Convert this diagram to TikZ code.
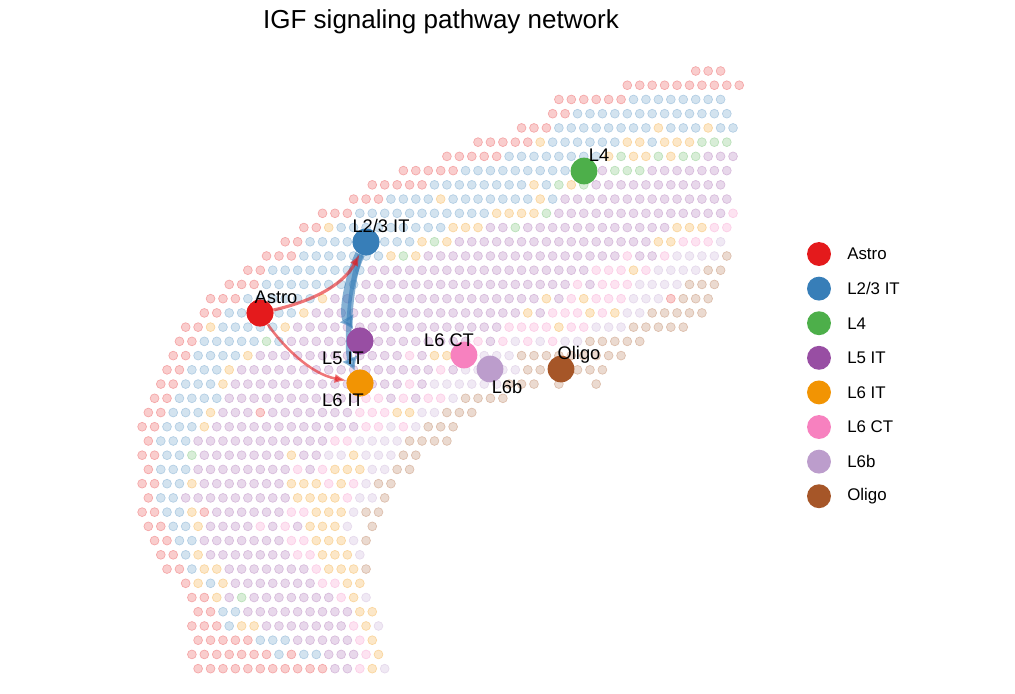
\documentclass[tikz,border=0pt]{standalone}
\usepackage{fontspec}
\setmainfont{Liberation Sans}
\usetikzlibrary{arrows.meta}

\definecolor{cr}{HTML}{E41A1C}
\definecolor{cb}{HTML}{377EB8}
\definecolor{cg}{HTML}{4DAF4A}
\definecolor{cp}{HTML}{984EA3}
\definecolor{co}{HTML}{F29403}
\definecolor{ck}{HTML}{F781BF}
\definecolor{cl}{HTML}{BC9DCC}
\definecolor{cn}{HTML}{A65628}

% one row of spots: row index, first column, colour letters (. = empty)
\newcount\spotm
\def\spotrow#1#2#3{\def\spoty{#1}\global\spotm=#2\relax\spotscan#3\relax}
\def\spotscan#1{\ifx#1\relax\else\spotput#1\expandafter\spotscan\fi}
\def\spotput#1{\if#1.\else
  \path[spot,fill=c#1!22,draw=c#1!38] ({6.22*(\the\spotm+0.85)},{71+14.23*\spoty}) circle (4.4);\fi
  \global\advance\spotm by 2\relax}

\begin{document}
\begin{tikzpicture}[x=0.025cm,y=-0.025cm,
    spot/.style={line width=0.5pt},
    big/.style={circle, fill=#1, inner sep=0pt, minimum size=19pt},
    lab/.style={font=\fontsize{13}{15}\selectfont, inner sep=0pt},
    sig/.style={draw=#1, opacity=.6, -{Latex[length=8.5pt,width=6.5pt]}},
    wide/.style={draw=cb, opacity=.6, -{Latex[length=9pt,width=12pt]}}]
    \useasboundingbox (0,0) rectangle (1015,693);

    \spotrow{0}{111}{rrr}
    \spotrow{1}{100}{rrrrrrrrrr}
    \spotrow{2}{89}{rrrrrr bbbbbbbb}
    \spotrow{3}{88}{rr bbbbbbbbbbbbb}
    \spotrow{4}{83}{rrr bbbbbbbb o bbb o bb}
    \spotrow{5}{76}{rrrrr o bbbbbb oo b ooo ggg}
    \spotrow{6}{71}{rrrrr bbbbbbbb ogoogogg ppp}
    \spotrow{7}{64}{rrrrr bbbbbbbbb gg p ggg ppppppp}
    \spotrow{8}{59}{rrrrr bbbbbbbb obgog ppppppppppp}
    \spotrow{9}{56}{rrr bbbb o bbbbbbb o b pppppppppppppp}
    \spotrow{10}{51}{rrr bbbbbbbbbbb oooo g pppppppppppppp k}
    \spotrow{11}{48}{rr o b bbbbbbbb ooo pp g pp pppppppppp ooo kk}
    \spotrow{12}{45}{rr b bbbbbbb b ogo pppppppppppppppp oo kkk l}
    \spotrow{13}{42}{rrr bbbbbbb ogo pppppppppppppppp k pp k llll n}
    \spotrow{14}{39}{rr bbbbbbbb pppppppppppppppppp kkk o k llll nn}
    \spotrow{15}{36}{rrr bbbbbbbb ppppppppppppppppp k p kkk llll nnn}
    \spotrow{16}{33}{rrr bbbbbb o pp ppppppppppppppp o p k o kkk lll r nnn}
    \spotrow{17}{32}{rr bbbbbb o ppppppppppppppppp o p kkk o k o ll nnnnn}
    \spotrow{18}{29}{rr o bbbbb o ppppppppppppppppp kkkk o kk lll nnnnn}
    \spotrow{19}{28}{rr bbbbb g b ppppppppppppppp kpklklkll nnnnn}
    \spotrow{20}{27}{rr bbbb o pppppppppppp k p oo kk lll nnnnnnnnn}
    \spotrow{21}{26}{rr bbb o pppppppppppppppp k p lllll nnnnnnn}
    \spotrow{22}{25}{rr bbb o pppppppppppppp k p llllll nnn . n . . n}
    \spotrow{23}{24}{rr bbbb ppppppppppp kk p k p kk l nnnn}
    \spotrow{24}{23}{rr bbb o ppp r ppppppp kkk oo ll nnn}
    \spotrow{25}{22}{rr bbb o pppppppppppp kk l k l nnn}
    \spotrow{26}{23}{r bbb ppppppppppp kk llll nnnn}
    \spotrow{27}{22}{rr bb g ppppppp o pp ll o lll nn}
    \spotrow{28}{23}{r bbb pppppppp k p k ooo ll nn}
    \spotrow{29}{22}{rr bb o ppppppp ooo k o k l nn}
    \spotrow{30}{23}{r bb ppppppppp oooo k ll n}
    \spotrow{31}{22}{rr bb o r pppppp kk ooo l nn}
    \spotrow{32}{23}{rr bb o pppp k p k p ooo l . n}
    \spotrow{33}{24}{rr bb ppppppp kk ooo l n}
    \spotrow{34}{25}{rr b o ppppppp kk ooo l}
    \spotrow{35}{26}{rr b oo ppppppp k ooo n}
    \spotrow{36}{29}{r o b o ppppppp kk oo}
    \spotrow{37}{30}{rr o p g ppppppp k o l}
    \spotrow{38}{31}{rr bb ppppppppp oo}
    \spotrow{39}{30}{rrr b oo ppppppp k o l}
    \spotrow{40}{31}{rrrrr bbb ppppp k o}
    \spotrow{41}{30}{rrrrrrr b r bb ppp k o}
    \spotrow{42}{31}{rrrrrrrrrrr pp k o l}

    \node[font=\fontsize{18.5}{22}\selectfont] (title) at (441,22) {IGF signaling pathway network};

    \node[big=cr] (astro) at (260,313) {};
    \node[big=cb] (l23) at (366,242) {};
    \node[big=cg] (l4) at (584,171) {};
    \node[big=cp] (l5) at (360,341) {};
    \node[big=co] (l6) at (360,383) {};
    \node[big=ck] (l6ct) at (464,355) {};
    \node[big=cl] (l6b) at (490,369) {};
    \node[big=cn] (oligo) at (561,369) {};

    \draw[wide, line width=4pt] (l23) .. controls (350,280) and (346,350) .. (l6);
    \draw[wide, line width=7pt] (l23) .. controls (350,275) and (343,312) .. (l5);
    \draw[sig=cr, line width=2.2pt] (astro) .. controls (318,300) and (345,282) .. (l23);
    \draw[sig=cr, line width=1.8pt] (astro) .. controls (282,345) and (310,374) .. (l6);

    \node[big=cb] at (l23) {};
    \node[big=cp] at (l5) {};
    \node[big=co] at (l6) {};
    \node[big=cr] at (astro) {};

    \node[lab] (astro-t) at (276,297) {Astro};
    \node[lab] (l23-t) at (381,226) {L2/3 IT};
    \node[lab] (l4-t) at (599,155) {L4};
    \node[lab] (l5-t) at (343,358) {L5 IT};
    \node[lab] (l6-t) at (343,400) {L6 IT};
    \node[lab] (l6ct-t) at (449,340) {L6 CT};
    \node[lab] (l6b-t) at (507,387) {L6b};
    \node[lab] (oligo-t) at (579,355) {Oligo};

    % legend
    \foreach \c/\t [count=\i from 0] in {cr/Astro, cb/{L2/3 IT}, cg/L4, cp/L5 IT, co/L6 IT, ck/L6 CT, cl/L6b, cn/Oligo} {
        \node[circle, fill=\c, inner sep=0pt, minimum size=17pt] (leg\i) at (819,{254+34.6*\i}) {};
        \node[anchor=west, font=\fontsize{12}{14}\selectfont, inner sep=0pt] (legt\i) at (847,{254+34.6*\i}) {\t};
    }
\end{tikzpicture}
\end{document}
